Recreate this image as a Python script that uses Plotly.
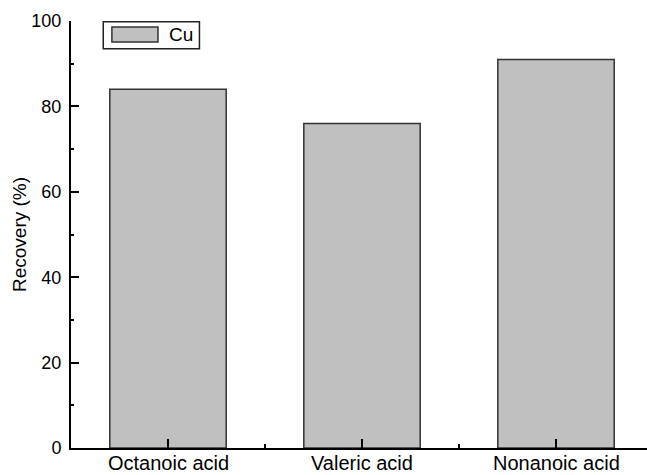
import plotly.graph_objects as go

# Recovery of Cu by extractant
categories = ["Octanoic acid", "Valeric acid", "Nonanoic acid"]
recovery_cu = [84, 76, 91]
series_name = "Cu"
y_tick_values = [0, 20, 40, 60, 80, 100]

FONT = "Liberation Sans, Arial, sans-serif"
BAR_FILL = "#c0c0c0"
BAR_EDGE = "#333333"
PLOT_H = 475 - 21 - 27

positions = list(range(len(categories)))

fig = go.Figure()
fig.add_trace(go.Bar(
    x=positions,
    y=recovery_cu,
    name=series_name,
    width=0.6,
    marker=dict(color=BAR_FILL, line=dict(color=BAR_EDGE, width=1.5)),
    showlegend=False,
))

# Category labels, anchored to the bottom edge of the figure
for pos, name in zip(positions, categories):
    fig.add_annotation(text=name, x=pos, xref="x", y=-27 / PLOT_H, yref="paper",
                       xanchor="center", yanchor="bottom", showarrow=False,
                       borderpad=0,
                       font=dict(family=FONT, size=20, color="black"))

# Framed legend drawn in paper coordinates
fig.add_shape(type="rect", xref="paper", yref="paper",
              x0=0.056, x1=0.223, y0=0.935, y1=0.998,
              line=dict(color="#222222", width=1.5), fillcolor="white")
fig.add_shape(type="rect", xref="paper", yref="paper",
              x0=0.071, x1=0.151, y0=0.951, y1=0.986,
              line=dict(color=BAR_EDGE, width=1.5), fillcolor=BAR_FILL)
fig.add_annotation(text=series_name, xref="paper", yref="paper",
                   x=0.166, y=0.968, xanchor="left", yanchor="middle",
                   showarrow=False, font=dict(family=FONT, size=19, color="black"))

fig.update_layout(
    width=647, height=475,
    margin=dict(l=71, r=0, t=21, b=27),
    plot_bgcolor="white", paper_bgcolor="white",
    font=dict(family=FONT, size=18, color="black"),
    bargap=0.4,
)

fig.update_xaxes(
    range=[-0.5, 2.469],
    tickvals=positions, showticklabels=False,
    automargin=False,
    showline=True, linecolor="black", linewidth=2,
    ticks="inside", ticklen=9, tickwidth=2, tickcolor="black",
    minor=dict(ticks="inside", ticklen=4, tickwidth=2, tickcolor="black",
               tick0=0.5, dtick=1),
    showgrid=False, zeroline=False,
)
fig.update_yaxes(
    range=[0, 100],
    tickvals=y_tick_values,
    automargin=False,
    showline=True, linecolor="black", linewidth=2,
    ticks="inside", ticklen=8, tickwidth=2, tickcolor="black",
    minor=dict(ticks="inside", ticklen=3, tickwidth=2, tickcolor="black",
               tick0=10, dtick=20),
    showgrid=False, zeroline=False,
    ticklabelstandoff=4,
    tickfont=dict(family=FONT, size=18),
    title=dict(text="Recovery (%)", font=dict(family=FONT, size=19), standoff=0),
)

fig.write_html("out.html")
